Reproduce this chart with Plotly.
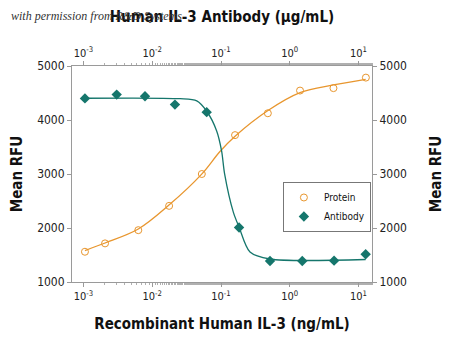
import plotly.graph_objects as go

# Data
protein_conc = [0.00105, 0.00206, 0.00627, 0.0176, 0.0526, 0.160, 0.480, 1.41, 4.32, 12.8]
protein_rfu = [1560, 1715, 1960, 2410, 3000, 3720, 4125, 4545, 4590, 4785]

antibody_conc = [0.00105, 0.00304, 0.00785, 0.0214, 0.0619, 0.183, 0.516, 1.52, 4.41, 12.7]
antibody_rfu = [4400, 4470, 4440, 4285, 4145, 2010, 1390, 1390, 1395, 1515]

# Fitted curves
protein_fit_x = [0.00105, 0.00206, 0.00627, 0.0175, 0.0524, 0.0966, 0.160, 0.488, 1.41, 4.30, 12.7]
protein_fit_y = [1583, 1722, 1981, 2424, 2998, 3417, 3700, 4181, 4508, 4649, 4754]

antibody_fit_x = [0.00105, 0.0254, 0.0444, 0.0619, 0.0865, 0.102, 0.113, 0.151, 0.183, 0.264, 0.516, 12.7]
antibody_fit_y = [4403, 4394, 4353, 4162, 3798, 3428, 2998, 2295, 2018, 1555, 1426, 1417]

tick_vals = [0.001, 0.01, 0.1, 1, 10]
tick_text = ["10<sup>-3</sup>", "10<sup>-2</sup>", "10<sup>-1</sup>", "10<sup>0</sup>", "10<sup>1</sup>"]
y_ticks = [1000, 2000, 3000, 4000, 5000]

ORANGE = "#E8962E"
TEAL = "#15766C"
AXIS = "#9a9a9a"
FONT = "'DejaVu Sans Condensed', 'Liberation Sans Narrow', 'Open Sans', sans-serif"

fig = go.Figure()

fig.add_trace(go.Scatter(x=protein_fit_x, y=protein_fit_y, mode="lines",
                         line=dict(color=ORANGE, width=1.3, shape="spline", smoothing=1.0),
                         showlegend=False, hoverinfo="skip"))
fig.add_trace(go.Scatter(x=protein_conc, y=protein_rfu, mode="markers", name="Protein",
                         marker=dict(symbol="circle-open", size=7, color=ORANGE,
                                     line=dict(width=1, color=ORANGE))))
fig.add_trace(go.Scatter(x=antibody_fit_x, y=antibody_fit_y, mode="lines",
                         line=dict(color=TEAL, width=1.3, shape="spline", smoothing=0.8),
                         showlegend=False, hoverinfo="skip", xaxis="x2", yaxis="y2"))
fig.add_trace(go.Scatter(x=antibody_conc, y=antibody_rfu, mode="markers", name="Antibody",
                         marker=dict(symbol="diamond", size=8, color=TEAL),
                         xaxis="x2", yaxis="y2"))

xrange = [-3.167, 1.196]
yrange = [1000, 5000]

common_x = dict(type="log", range=xrange, tickmode="array", tickvals=tick_vals, ticktext=tick_text,
                showgrid=False, zeroline=False, showline=True, linecolor=AXIS, linewidth=1,
                ticks="outside", ticklen=4, tickcolor=AXIS, automargin=False,
                minor=dict(ticks="outside", ticklen=2, tickcolor="#b0b0b0", showgrid=False),
                tickfont=dict(family=FONT, size=11, color="#222"))
common_y = dict(range=yrange, tickvals=y_ticks, showgrid=False,
                zeroline=False, showline=True, linecolor=AXIS, linewidth=1,
                ticks="outside", ticklen=4, tickcolor=AXIS, automargin=False,
                tickfont=dict(family=FONT, size=12, color="#222"))
title_font = dict(family=FONT, size=15, color="#111")

fig.update_layout(
    width=450, height=347,
    margin=dict(l=72, r=78, t=66, b=65),
    paper_bgcolor="white", plot_bgcolor="white",
    xaxis=dict(**common_x,
               title=dict(text="<b>Recombinant Human IL-3 (ng/mL)</b>", font=title_font, standoff=16)),
    xaxis2=dict(**common_x, overlaying="x", side="top", matches="x",
                title=dict(text="<b>Human IL-3 Antibody (μg/mL)</b>", font=title_font, standoff=18)),
    yaxis=dict(**common_y,
               title=dict(text="<b>Mean RFU</b>", font=title_font, standoff=10)),
    yaxis2=dict(**common_y, overlaying="y", side="right", matches="y",
                title=dict(text="<b>Mean RFU</b>", font=title_font, standoff=24)),
    legend=dict(x=0.703, y=0.463, xanchor="left", yanchor="top",
                bordercolor="#777", borderwidth=1, bgcolor="white",
                font=dict(family=FONT, size=10, color="#111"),
                itemwidth=30, tracegroupgap=0),
    showlegend=True,
    annotations=[dict(text="<i>with permission from R&amp;D Systems</i>", xref="paper", yref="paper",
                      x=-0.21, y=1.23, xanchor="left", yanchor="middle", showarrow=False,
                      font=dict(family="Liberation Serif", size=12, color="#333"))],
)

fig.write_html("out.html")
